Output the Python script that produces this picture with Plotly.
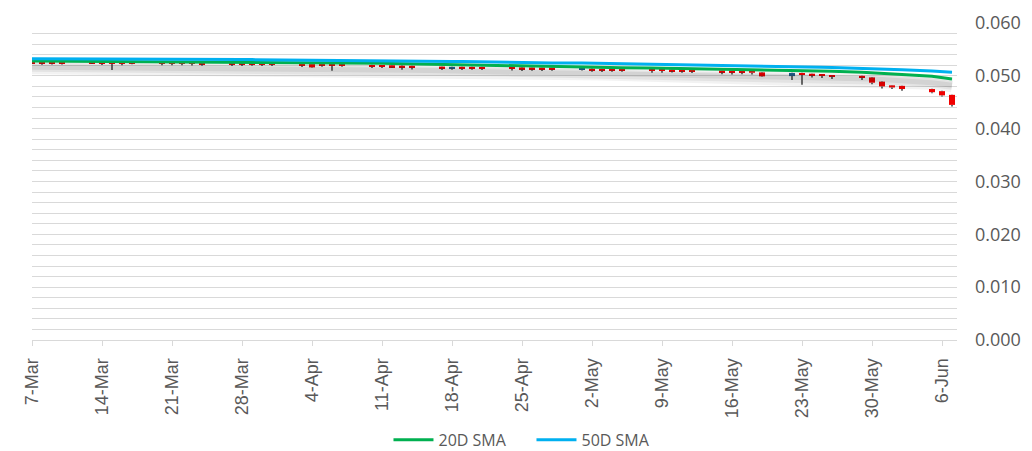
import plotly.graph_objects as go

# Trading days, 7 Mar - 7 Jun 2023
dates = [
    "2023-03-07", "2023-03-08", "2023-03-09", "2023-03-10",
    "2023-03-13", "2023-03-14", "2023-03-15", "2023-03-16", "2023-03-17",
    "2023-03-20", "2023-03-21", "2023-03-22", "2023-03-23", "2023-03-24",
    "2023-03-27", "2023-03-28", "2023-03-29", "2023-03-30", "2023-03-31",
    "2023-04-03", "2023-04-04", "2023-04-05", "2023-04-06", "2023-04-07",
    "2023-04-10", "2023-04-11", "2023-04-12", "2023-04-13", "2023-04-14",
    "2023-04-17", "2023-04-18", "2023-04-19", "2023-04-20", "2023-04-21",
    "2023-04-24", "2023-04-25", "2023-04-26", "2023-04-27", "2023-04-28",
    "2023-05-01", "2023-05-02", "2023-05-03", "2023-05-04", "2023-05-05",
    "2023-05-08", "2023-05-09", "2023-05-10", "2023-05-11", "2023-05-12",
    "2023-05-15", "2023-05-16", "2023-05-17", "2023-05-18", "2023-05-19",
    "2023-05-22", "2023-05-23", "2023-05-24", "2023-05-25", "2023-05-26",
    "2023-05-29", "2023-05-30", "2023-05-31",
    "2023-06-01", "2023-06-02", "2023-06-05", "2023-06-06", "2023-06-07",
]

open_ = [
    0.05260, 0.05258, 0.05256, 0.05258,
    0.05260, 0.05258, 0.05256, 0.05254, 0.05258,
    0.05250, 0.05248, 0.05250, 0.05248, 0.05246,
    0.05244, 0.05242, 0.05242, 0.05240, 0.05240,
    0.05225, 0.05222, 0.05222, 0.05220, 0.05216,
    0.05202, 0.05200, 0.05200, 0.05192, 0.05190,
    0.05175, 0.05142, 0.05172, 0.05170, 0.05168,
    0.05162, 0.05160, 0.05158, 0.05156, 0.05155,
    0.05112, 0.05135, 0.05132, 0.05130, 0.05130,
    0.05122, 0.05120, 0.05120, 0.05118, 0.05116,
    0.05102, 0.05100, 0.05098, 0.05096, 0.05065,
    0.04995, 0.05052, 0.05040, 0.05030, 0.05012,
    0.05000, 0.04970, 0.04890,
    0.04820, 0.04810, 0.04750, 0.04710, 0.04640,
]
high = [
    0.05266, 0.05264, 0.05262, 0.05264,
    0.05266, 0.05264, 0.05262, 0.05260, 0.05264,
    0.05256, 0.05254, 0.05256, 0.05254, 0.05252,
    0.05250, 0.05248, 0.05248, 0.05246, 0.05246,
    0.05232, 0.05228, 0.05228, 0.05226, 0.05222,
    0.05208, 0.05206, 0.05206, 0.05198, 0.05196,
    0.05180, 0.05176, 0.05178, 0.05176, 0.05174,
    0.05168, 0.05166, 0.05164, 0.05162, 0.05160,
    0.05150, 0.05142, 0.05138, 0.05136, 0.05136,
    0.05128, 0.05126, 0.05126, 0.05124, 0.05122,
    0.05108, 0.05106, 0.05104, 0.05102, 0.05072,
    0.05060, 0.05060, 0.05046, 0.05036, 0.05018,
    0.05006, 0.04976, 0.04896,
    0.04826, 0.04816, 0.04756, 0.04716, 0.04646,
]
low = [
    0.05230, 0.05212, 0.05215, 0.05216,
    0.05222, 0.05206, 0.05110, 0.05202, 0.05220,
    0.05202, 0.05198, 0.05200, 0.05196, 0.05192,
    0.05185, 0.05188, 0.05192, 0.05184, 0.05188,
    0.05165, 0.05150, 0.05170, 0.05095, 0.05170,
    0.05150, 0.05148, 0.05150, 0.05115, 0.05120,
    0.05110, 0.05115, 0.05112, 0.05115, 0.05110,
    0.05100, 0.05090, 0.05095, 0.05090, 0.05095,
    0.05100, 0.05075, 0.05072, 0.05075, 0.05078,
    0.05060, 0.05058, 0.05062, 0.05060, 0.05055,
    0.05030, 0.05025, 0.05030, 0.05025, 0.04985,
    0.04920, 0.04830, 0.04970, 0.04960, 0.04940,
    0.04920, 0.04840, 0.04760,
    0.04750, 0.04720, 0.04670, 0.04610, 0.04420,
]
close = [
    0.05240, 0.05234, 0.05232, 0.05228,
    0.05236, 0.05230, 0.05228, 0.05226, 0.05234,
    0.05228, 0.05226, 0.05225, 0.05224, 0.05222,
    0.05220, 0.05218, 0.05214, 0.05212, 0.05214,
    0.05195, 0.05160, 0.05198, 0.05196, 0.05192,
    0.05172, 0.05168, 0.05166, 0.05162, 0.05158,
    0.05145, 0.05170, 0.05140, 0.05138, 0.05136,
    0.05132, 0.05128, 0.05126, 0.05120, 0.05122,
    0.05145, 0.05105, 0.05104, 0.05100, 0.05102,
    0.05095, 0.05092, 0.05090, 0.05090, 0.05086,
    0.05068, 0.05064, 0.05062, 0.05058, 0.04990,
    0.05055, 0.05018, 0.05012, 0.05002, 0.04990,
    0.04970, 0.04870, 0.04800,
    0.04780, 0.04750, 0.04690, 0.04630, 0.04450,
]

sma20 = [
    0.05282, 0.05281, 0.05280, 0.05279,
    0.05278, 0.05277, 0.05276, 0.05275, 0.05274,
    0.05273, 0.05272, 0.05271, 0.05270, 0.05269,
    0.05268, 0.05267, 0.05266, 0.05265, 0.05263,
    0.05261, 0.05259, 0.05257, 0.05254, 0.05251,
    0.05244, 0.05239, 0.05234, 0.05230, 0.05226,
    0.05216, 0.05211, 0.05207, 0.05203, 0.05199,
    0.05190, 0.05186, 0.05182, 0.05178, 0.05174,
    0.05170, 0.05166, 0.05162, 0.05158, 0.05154,
    0.05146, 0.05143, 0.05140, 0.05137, 0.05134,
    0.05130, 0.05127, 0.05124, 0.05121, 0.05118,
    0.05110, 0.05104, 0.05098, 0.05092, 0.05086,
    0.05066, 0.05058, 0.05050,
    0.05040, 0.05026, 0.04990, 0.04966, 0.04940,
]
sma50 = [
    0.05322, 0.05322, 0.05321, 0.05320,
    0.05319, 0.05318, 0.05317, 0.05316, 0.05315,
    0.05314, 0.05313, 0.05312, 0.05311, 0.05310,
    0.05309, 0.05308, 0.05307, 0.05306, 0.05305,
    0.05304, 0.05302, 0.05300, 0.05298, 0.05296,
    0.05293, 0.05290, 0.05287, 0.05284, 0.05281,
    0.05277, 0.05273, 0.05270, 0.05266, 0.05262,
    0.05258, 0.05255, 0.05251, 0.05248, 0.05245,
    0.05242, 0.05239, 0.05236, 0.05233, 0.05229,
    0.05224, 0.05220, 0.05216, 0.05212, 0.05208,
    0.05204, 0.05200, 0.05196, 0.05192, 0.05188,
    0.05180, 0.05174, 0.05168, 0.05162, 0.05156,
    0.05142, 0.05136, 0.05129,
    0.05121, 0.05113, 0.05090, 0.05079, 0.05067,
]

UP_COLOR = "#245F8C"
DOWN_COLOR = "#F00000"
WICK_COLOR = "#3A3A3A"
GREEN = "#00B050"
BLUE = "#00B0F0"
GRID = "#D9D9D9"
TEXT = "#595959"
DAY_MS = 86400000

body_lo = [min(o, c) for o, c in zip(open_, close)]
body_hi = [max(o, c) for o, c in zip(open_, close)]
body_h = [hi - lo for hi, lo in zip(body_hi, body_lo)]
body_colors = [UP_COLOR if c > o else DOWN_COLOR for o, c in zip(open_, close)]

# wick segments above and below each body
wx, wy = [], []
for d, h, l, top, bot in zip(dates, high, low, body_hi, body_lo):
    wx += [d, d, None, d, d, None]
    wy += [h, top, None, bot, l, None]

fig = go.Figure()

# soft drop shadow under the candle row and the averages
shadow_shift = 0.0012
for width, alpha in [(14, 0.05), (9, 0.06), (5, 0.07)]:
    fig.add_trace(go.Scatter(
        x=dates, y=[v - shadow_shift for v in sma20], mode="lines",
        line=dict(color=f"rgba(0,0,0,{alpha})", width=width),
        showlegend=False, hoverinfo="skip"))

fig.add_trace(go.Bar(
    x=dates, base=body_lo, y=body_h, width=0.6 * DAY_MS,
    marker=dict(color=body_colors, line=dict(width=0)),
    showlegend=False, hoverinfo="skip"))

fig.add_trace(go.Scatter(
    x=wx, y=wy, mode="lines", line=dict(color=WICK_COLOR, width=1.5),
    showlegend=False, hoverinfo="skip"))

fig.add_trace(go.Scatter(
    x=dates, y=sma20, mode="lines", name="20D SMA",
    line=dict(color=GREEN, width=3)))
fig.add_trace(go.Scatter(
    x=dates, y=sma50, mode="lines", name="50D SMA",
    line=dict(color=BLUE, width=3)))

fig.update_layout(
    width=1032, height=451,
    margin=dict(l=32, r=75, t=23, b=111),
    plot_bgcolor="white", paper_bgcolor="white",
    showlegend=True,
    legend=dict(
        orientation="h", xref="container", yref="container",
        x=0.515, xanchor="center", y=0.025, yanchor="middle",
        font=dict(family="Open Sans", size=16, color=TEXT),
        traceorder="normal", itemwidth=40,
        entrywidth=88, entrywidthmode="pixels",
    ),
)

fig.update_xaxes(
    type="date",
    range=["2023-03-07", "2023-06-07 12:00"],
    tickmode="linear", tick0="2023-03-07", dtick=7 * DAY_MS,
    tickformat="%-d-%b", tickangle=-90,
    tickfont=dict(family="Liberation Sans", size=18, color=TEXT),
    showgrid=False, showline=True, linecolor=GRID, linewidth=1,
    ticks="outside", ticklen=5, tickcolor=GRID,
    zeroline=False, ticklabelstandoff=5, automargin=False,
)

fig.update_yaxes(
    side="right", range=[0, 0.060],
    tickmode="linear", tick0=0, dtick=0.01, tickformat=".3f",
    tickfont=dict(family="Open Sans", size=18, color=TEXT),
    showgrid=True, gridcolor=GRID, gridwidth=1,
    minor=dict(dtick=0.002, showgrid=True, gridcolor=GRID, gridwidth=1),
    showline=False, ticks="", zeroline=False,
    ticklabelstandoff=17, automargin=False,
)

fig.write_html("out.html")
